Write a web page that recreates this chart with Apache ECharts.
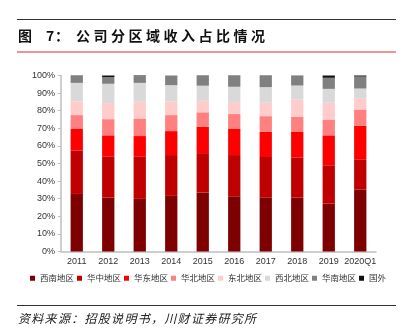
<!DOCTYPE html>
<html><head><meta charset="utf-8">
<script src="https://cdn.jsdelivr.net/npm/echarts@6/dist/echarts.min.js"></script>
<style>html,body{margin:0;padding:0;background:#fff}#c{width:402px;height:331px}</style>
</head><body><div id="c"></div>
<script>
const categories = ['2011','2012','2013','2014','2015','2016','2017','2018','2019','2020Q1'];
const seriesNames = ['西南地区','华中地区','华东地区','华北地区','东北地区','西北地区','华南地区','国外'];
const xinan  = [32.7, 30.6, 29.9, 31.6, 33.5, 31.4, 30.8, 30.6, 27.2, 35.3];
const huazhong = [24.6, 23.5, 24.2, 23.2, 22.4, 23.4, 22.9, 22.9, 21.8, 17.1];
const huadong = [12.3, 11.9, 11.5, 13.6, 15.0, 14.8, 14.4, 14.4, 17.0, 19.0];
const huabei = [7.9, 9.2, 10.0, 9.1, 8.2, 8.5, 8.8, 8.7, 9.0, 9.3];
const dongbei = [7.8, 9.1, 9.5, 7.8, 6.5, 6.8, 7.6, 9.8, 9.5, 6.4];
const xibei = [10.5, 11.0, 10.7, 9.2, 8.6, 8.7, 8.9, 7.9, 7.9, 5.5];
const huanan = [4.0, 3.8, 3.9, 5.5, 5.6, 6.2, 6.4, 5.6, 6.3, 6.8];
const guowai = [0.2, 0.9, 0.3, 0.0, 0.2, 0.2, 0.2, 0.1, 1.3, 0.6];
const yTicks = [0,10,20,30,40,50,60,70,80,90,100];
const colors = ['#7F0000','#C00000','#FF0000','#FF8080','#FFCCCC','#D9D9D9','#808080','#111111'];
const allData = [xinan, huazhong, huadong, huabei, dongbei, xibei, huanan, guowai];

const titleHead = ['图','7','：'];
const titleHeadX = [18, 46, 55];
const titleBody = '公司分区域收入占比情况';
const source = '资料来源：招股说明书，川财证券研究所';

const chart = echarts.init(document.getElementById('c'), null, {renderer:'canvas'});
const graphics = [
  {type:'line', shape:{x1:17,y1:19.5,x2:396,y2:19.5}, style:{stroke:'#333',lineWidth:1.2}},
  {type:'line', shape:{x1:17,y1:52,x2:396,y2:52}, style:{stroke:'#E57373',lineWidth:1.6}},
  {type:'line', shape:{x1:17,y1:305.5,x2:396,y2:305.5}, style:{stroke:'#333',lineWidth:1}}
];
for (let i=0;i<titleHead.length;i++){
  graphics.push({type:'text', left:titleHeadX[i], top:29, style:{text:titleHead[i], font:'bold 14px "Noto Sans CJK SC"', fill:'#111'}});
}
for (let i=0;i<titleBody.length;i++){
  graphics.push({type:'text', left:76+i*17.5, top:29, style:{text:titleBody[i], font:'bold 14px "Noto Sans CJK SC"', fill:'#111'}});
}
for (let i=0;i<source.length;i++){
  graphics.push({type:'text', left:18+i*13.3, top:312, style:{text:source[i], font:'italic 12px "Noto Sans CJK SC"', fill:'#222'}});
}

chart.setOption({
  animation:false,
  backgroundColor:'#fff',
  graphic: graphics,
  grid:{left:61, right:26, top:75.5, bottom:79.5},
  legend:{
    data: seriesNames, left:30, top:274, width:395, itemWidth:5, itemHeight:5, itemGap:3,
    icon:'rect', padding:0,
    textStyle:{fontSize:8.5, color:'#333', fontFamily:'"Noto Sans CJK SC"'}
  },
  xAxis:{
    type:'category', data:categories,
    axisLine:{lineStyle:{color:'#BFBFBF', width:1.5}},
    axisTick:{show:false},
    axisLabel:{interval:0, fontSize:9, color:'#333', fontFamily:'Arial, "Liberation Sans"', margin:6}
  },
  yAxis:{
    type:'value', min:0, max:100, interval:10,
    splitLine:{show:false},
    axisLine:{show:true, lineStyle:{color:'#BFBFBF', width:1.5}},
    axisTick:{show:true, length:3, lineStyle:{color:'#BFBFBF'}},
    axisLabel:{fontSize:9, color:'#333', fontFamily:'Arial, "Liberation Sans"', formatter:'{value}%', margin:6}
  },
  series: seriesNames.map((n,i)=>({
    name:n, type:'bar', stack:'total', data:allData[i], barWidth:'39%',
    itemStyle:{color:colors[i]}
  }))
});
</script></body></html>
